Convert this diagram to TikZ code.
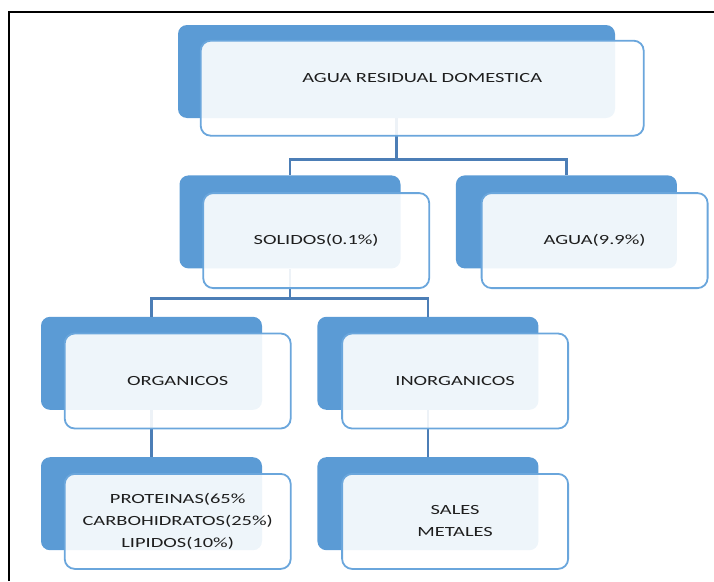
\documentclass[tikz,border=0pt]{standalone}
\usepackage{fontspec}
\setmainfont{Carlito}[FakeStretch=1.46]
\usepackage{tikz}
\usetikzlibrary{positioning}

\definecolor{boxblue}{HTML}{5B9BD5}
\definecolor{rimblue}{HTML}{6AA6DC}
\definecolor{linkblue}{HTML}{4C7EB6}
\definecolor{inkgray}{HTML}{1E1E1E}

\tikzset{
    back/.style={fill=boxblue,rounded corners=9pt,minimum width=221pt,minimum height=93pt,inner sep=0pt},
    front/.style={draw=rimblue,line width=1.8pt,fill=white,fill opacity=0.9,text opacity=1,
        rounded corners=10pt,minimum width=226pt,minimum height=95pt,inner sep=0pt,anchor=north west,
        align=center,text=inkgray,font=\fontsize{14}{22}\selectfont},
    link/.style={draw=linkblue,line width=2.6pt}
}

\begin{document}
\begin{tikzpicture}[x=1pt,y=-1pt]
    \useasboundingbox (0,0) rectangle (714,581);
    \draw [line width=1.8pt] (9,581) -- (9,12) -- (714,12);

    \node [back,minimum width=437pt] (0) at (396.5,71.5) {};
    \node [back] (1) [below=57pt of 0,xshift=-106.5pt] {};
    \node [back] (2) [right=55pt of 1] {};
    \node [back] (3) [below=48pt of 1,xshift=-138.5pt] {};
    \node [back] (4) [right=55pt of 3] {};
    \node [back] (5) [below=47pt of 3] {};
    \node [back] (6) [below=47pt of 4] {};

    \draw [link] (1.north) -- ++(0,-16) -| (0.south);
    \draw [link] (2.north) -- ++(0,-16) -| (0.south);
    \draw [link] (3.north) -- ++(0,-18) -| (1.south);
    \draw [link] (4.north) -- ++(0,-18) -| (1.south);
    \draw [link] (3.south) -- (5.north);
    \draw [link] (4.south) -- (6.north);

    \node [front,minimum width=443pt,text height=9pt,text depth=21pt] (t0) at ([shift={(22,15)}]0.north west) {AGUA RESIDUAL DOMESTICA};
    \node [front] (t1) at ([shift={(23,17)}]1.north west) {SOLIDOS(0.1\%)};
    \node [front] (t2) at ([shift={(25,17)}]2.north west) {AGUA(9.9\%)};
    \node [front] (t3) at ([shift={(23,16)}]3.north west) {ORGANICOS};
    \node [front] (t4) at ([shift={(24,16)}]4.north west) {INORGANICOS};
    \node [front] (t5) at ([shift={(23,16)}]5.north west) {PROTEINAS(65\%\\CARBOHIDRATOS(25\%)\\LIPIDOS(10\%)};
    \node [front] (t6) at ([shift={(24,16)}]6.north west) {SALES\\METALES};
\end{tikzpicture}
\end{document}
